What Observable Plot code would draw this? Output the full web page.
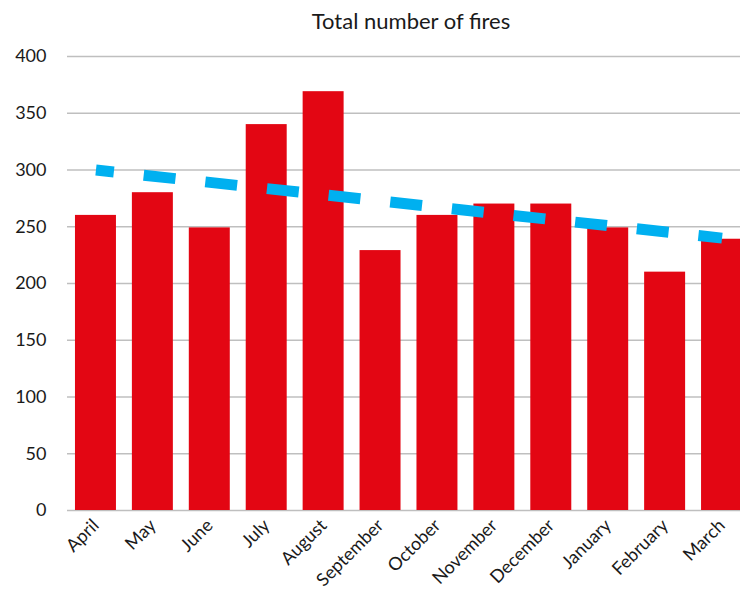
<!DOCTYPE html>
<html>
<head>
<meta charset="utf-8">
<script src="https://cdn.jsdelivr.net/npm/d3@7"></script>
<script src="https://cdn.jsdelivr.net/npm/@observablehq/plot@0.6"></script>
<style>
  html, body { margin: 0; padding: 0; background: #fff; }
  #chart svg { display: block; overflow: hidden; }
</style>
</head>
<body>
<div id="chart"></div>
<script>
const title = "Total number of fires";
const months = ["April","May","June","July","August","September","October","November","December","January","February","March"];
const fires = [260, 280, 249, 340, 369, 229, 260, 270, 270, 249, 210, 239];
const trendMonths = ["April", "March"];
const trendValues = [300, 240];
const yTicks = [0, 50, 100, 150, 200, 250, 300, 350, 400];

const bars = months.map((m, i) => ({month: m, value: fires[i]}));
const trend = trendMonths.map((m, i) => ({month: m, value: trendValues[i]}));

const chart = Plot.plot({
  width: 740,
  height: 589,
  marginLeft: 67,
  marginRight: 0,
  marginTop: 56,
  marginBottom: 79,
  style: {fontFamily: "Lato, sans-serif", fontSize: "18px", color: "#1a1a1a", background: "#fff"},
  x: {domain: months, range: [67, 750], round: false, paddingInner: 0.28, paddingOuter: 0.14, label: null, tickSize: 0, tickRotate: -45, tickPadding: 12},
  y: {domain: [0, 400], ticks: yTicks, label: null, tickSize: 0, tickPadding: 21},
  marks: [
    Plot.gridY(yTicks, {stroke: "#bfbfbf", strokeOpacity: 1, strokeWidth: 1.5}),
    Plot.barY(bars, {x: "month", y: "value", fill: "#e30613"}),
    Plot.line(trend, {x: "month", y: "value", stroke: "#00b0f0", strokeWidth: 11, strokeLinecap: "butt", strokeDasharray: "32,30", strokeDashoffset: 14}),
    Plot.text([title], {frameAnchor: "top", dx: 7, dy: -43, fontSize: 22, fill: "#1a1a1a"})
  ]
});
document.getElementById("chart").appendChild(chart);
</script>
</body>
</html>
